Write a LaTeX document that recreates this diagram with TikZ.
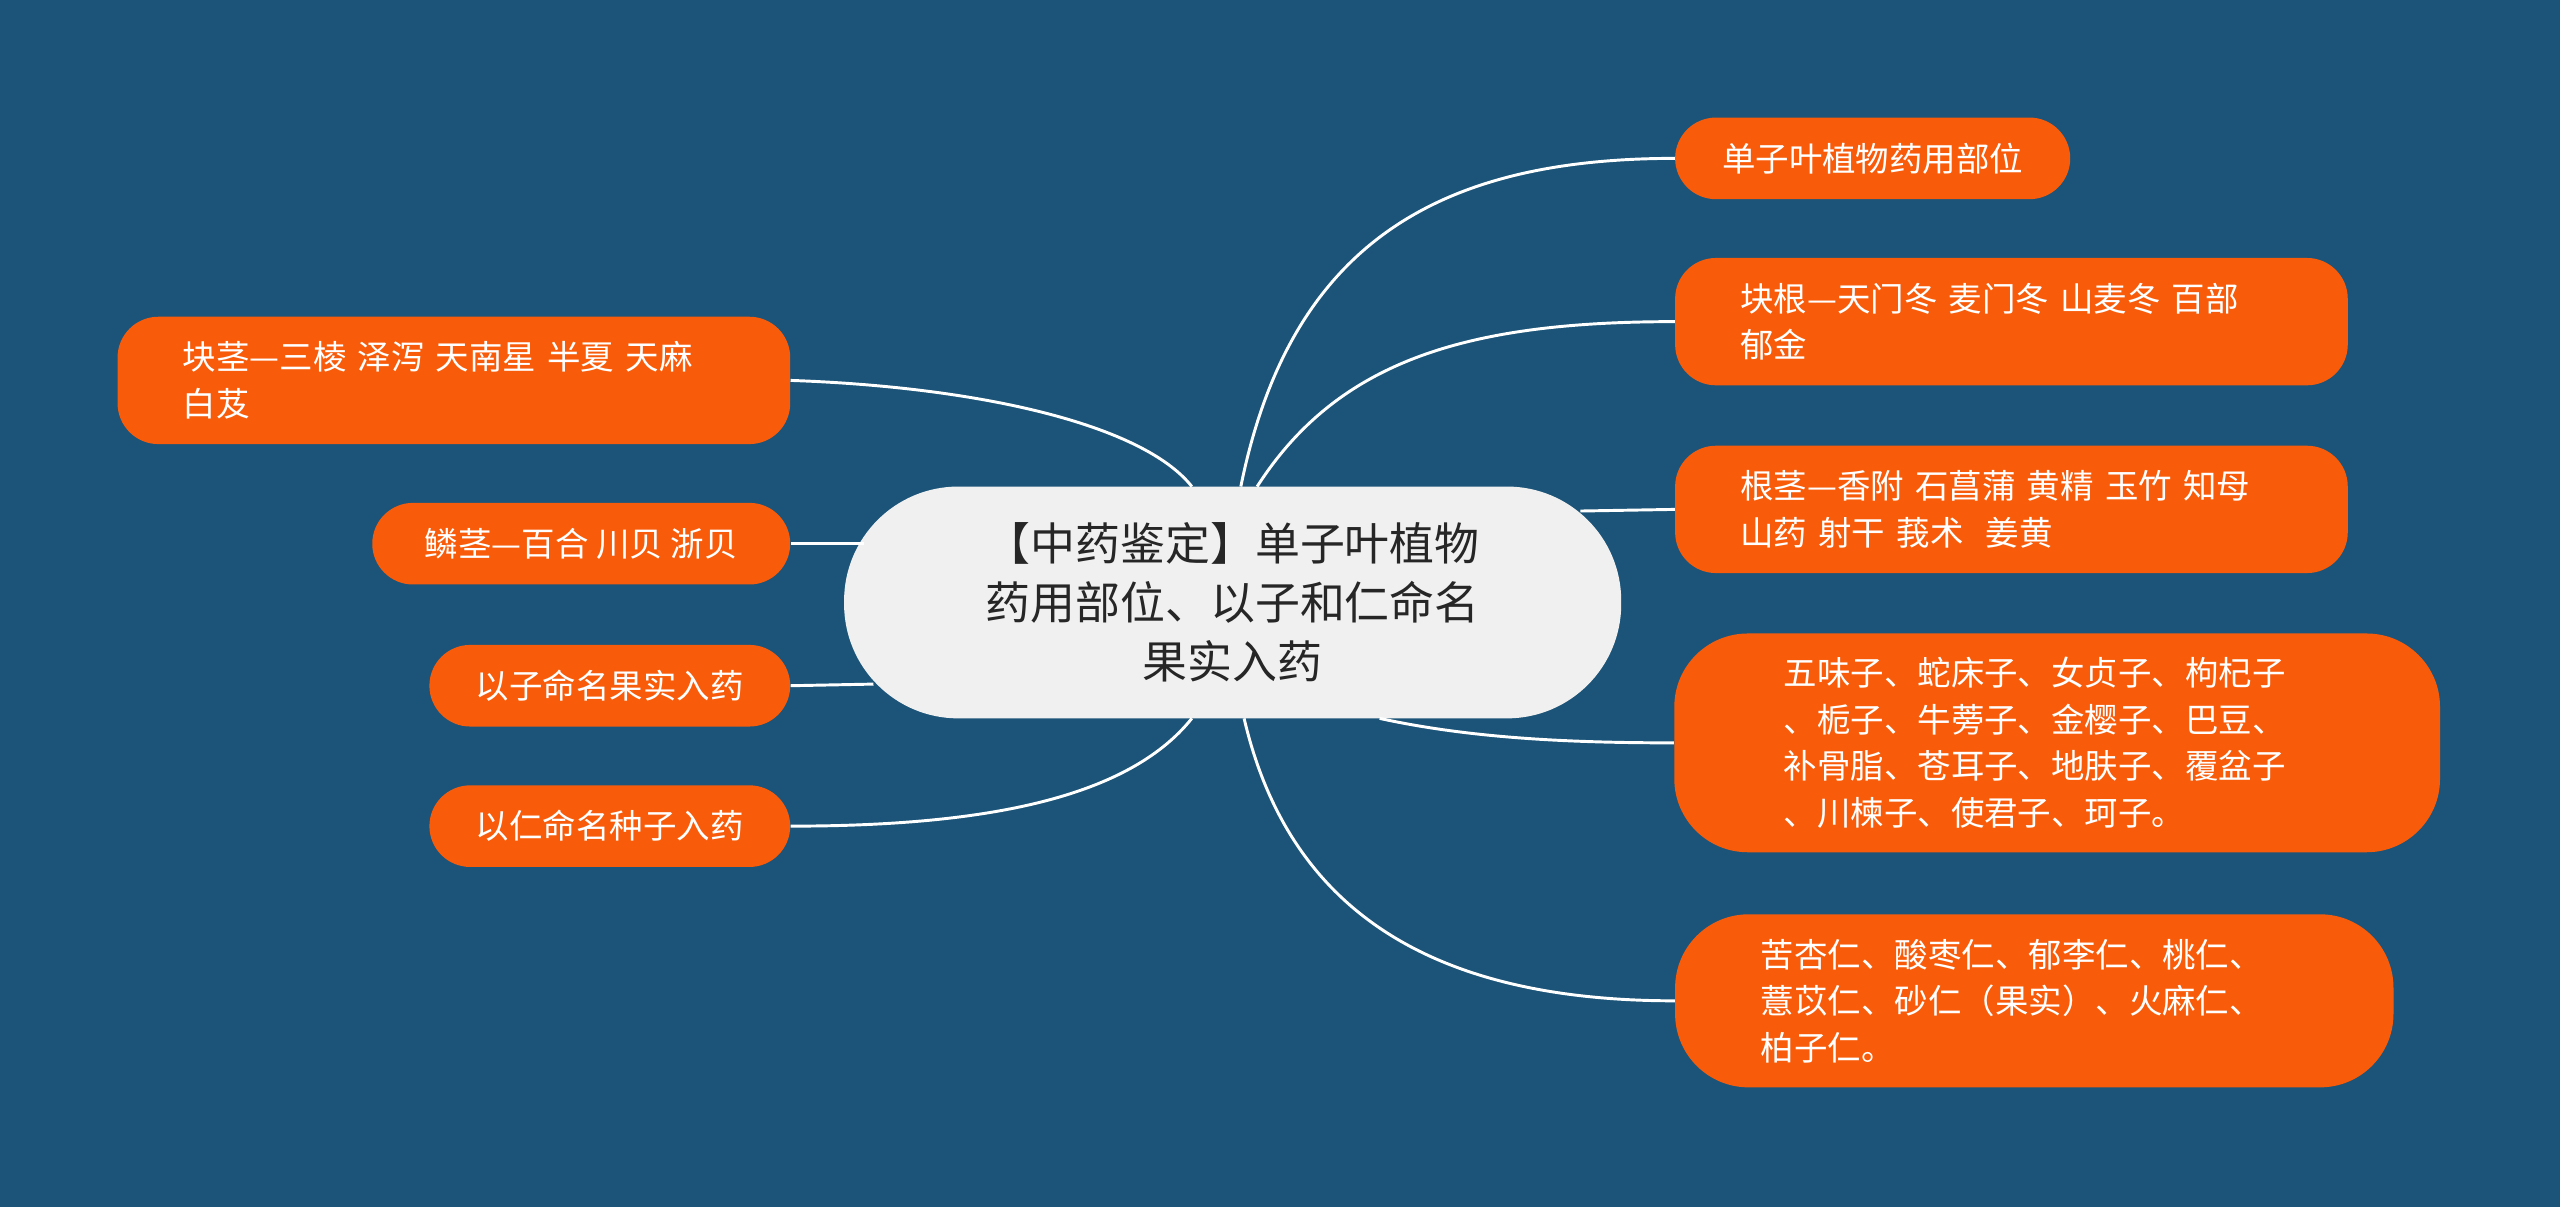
\documentclass[tikz,border=0pt]{standalone}
\usepackage{fontspec}
\setmainfont{Noto Sans CJK SC}
\definecolor{bg}{HTML}{1B5478}
\definecolor{org}{HTML}{F85C0A}
\definecolor{cen}{HTML}{F0F0F0}
\begin{document}
\begin{tikzpicture}[x=1pt,y=-1pt,
 leaf/.style={fill=org,text=white,rounded corners=25pt,font=\fontsize{20.5}{28.5}\selectfont,align=left,inner ysep=0pt,anchor=center},
 link/.style={draw=white,line width=1.8pt}]
\fill[bg] (0,0) rectangle (1568,739);
\node[fill=cen,rounded corners=70pt,minimum width=476pt,minimum height=142pt,font=\fontsize{27.5}{36}\selectfont,align=center,text=black!85] (c) at (755,369) {【中药鉴定】单子叶植物\\药用部位、以子和仁命名\\果实入药};
\node[leaf,minimum width=242pt,minimum height=50pt] (r1) at (1147,97) {单子叶植物药用部位};
\node[leaf,minimum width=412pt,minimum height=78pt,text width=332pt] (r2) at (1232,197) {块根—天门冬 麦门冬 山麦冬 百部\\郁金};
\node[leaf,minimum width=412pt,minimum height=78pt,text width=332pt] (r3) at (1232,312) {根茎—香附 石菖蒲 黄精 玉竹 知母\\ 山药 射干 莪术\ \ 姜黄};
\node[leaf,minimum width=469pt,minimum height=134pt,text width=335pt,rounded corners=45pt] (r4) at (1260,455) {五味子、蛇床子、女贞子、枸杞子\\、栀子、牛蒡子、金樱子、巴豆、\\补骨脂、苍耳子、地肤子、覆盆子\\、川楝子、使君子、珂子。};
\node[leaf,minimum width=440pt,minimum height=106pt,text width=335pt,rounded corners=45pt] (r5) at (1246,613) {苦杏仁、酸枣仁、郁李仁、桃仁、\\薏苡仁、砂仁（果实）、火麻仁、\\柏子仁。};
\node[leaf,minimum width=412pt,minimum height=78pt,text width=332pt] (l1) at (278,233) {块茎—三棱 泽泻 天南星 半夏 天麻\\ 白芨};
\node[leaf,minimum width=256pt,minimum height=50pt] (l2) at (356,333) {鳞茎—百合 川贝 浙贝};
\node[leaf,minimum width=221pt,minimum height=50pt] (l3) at (373.5,420) {以子命名果实入药};
\node[leaf,minimum width=221pt,minimum height=50pt] (l4) at (373.5,506) {以仁命名种子入药};
\draw[link] (760,298) .. controls (790,150) and (880,97) .. (r1.west);
\draw[link] (770,298) .. controls (820,220) and (900,197) .. (r2.west);
\draw[link] (968,313) -- (r3.west);
\draw[link] (845,440) .. controls (900,452) and (960,455) .. (r4.west);
\draw[link] (762,440) .. controls (790,560) and (880,613) .. (r5.west);
\draw[link] (730,298) .. controls (700,260) and (600,237) .. (l1.east);
\draw[link] (529,333) -- (l2.east);
\draw[link] (535,419) -- (l3.east);
\draw[link] (730,440) .. controls (690,490) and (600,506) .. (l4.east);
\end{tikzpicture}
\end{document}
